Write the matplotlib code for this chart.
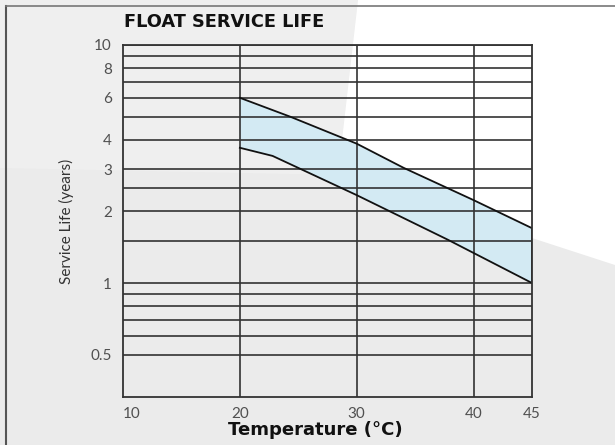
import matplotlib
matplotlib.use("Agg")
import matplotlib.pyplot as plt
from matplotlib.patches import Polygon
from matplotlib.ticker import FixedLocator, NullFormatter

# ---- data ----
upper_x = [20, 24.3, 30, 34, 40, 45]
upper_y = [6.0, 5.0, 3.85, 3.05, 2.23, 1.70]
lower_x = [20, 22.8, 30, 37.8, 45]
lower_y = [3.70, 3.42, 2.34, 1.52, 1.0]

x_ticks = [10, 20, 30, 40, 45]
x_tick_labels = ["10", "20", "30", "40", "45"]
x_grid = [20, 30, 40]
y_ticks = [0.5, 1, 2, 3, 4, 6, 8, 10]
y_tick_labels = ["0.5", "1", "2", "3", "4", "6", "8", "10"]
y_grid_minor = [0.6, 0.7, 0.8, 0.9, 1.5, 2.5, 5, 7, 9]

title = "FLOAT SERVICE LIFE"
xlabel = "Temperature (°C)"
ylabel = "Service Life (years)"

plt.rcParams['font.family'] = ['Lato', 'DejaVu Sans']

W, H = 615, 445
fig = plt.figure(figsize=(6.15, 4.45), dpi=100)
fig.patch.set_facecolor('#ebebeb')

# background axes (pixel coordinates)
bgax = fig.add_axes([0, 0, 1, 1], zorder=-5)
bgax.set_xlim(0, W)
bgax.set_ylim(H, 0)
bgax.axis('off')
bgax.add_patch(Polygon([(0, 0), (358, 0), (338, 175), (0, 168)], closed=True,
                       facecolor='#efefef', edgecolor='none'))
bgax.add_patch(Polygon([(358, 0), (338, 175), (615, 265), (615, 0)], closed=True,
                       facecolor='#ffffff', edgecolor='none'))
bgax.plot([6, 6], [6, H], color='#555555', lw=1.5)
bgax.plot([6, W], [6, 6], color='#777777', lw=1.2)

ax = fig.add_axes([123 / W, 1 - 397 / H, (532 - 123) / W, (397 - 45) / H], zorder=1)
ax.set_facecolor('none')
ax.set_yscale('log')
ax.set_xlim(10, 45)
ax.set_ylim(0.332, 10)

# band
poly_pts = list(zip(upper_x, upper_y)) + list(zip(lower_x[::-1], lower_y[::-1]))
ax.add_patch(Polygon(poly_pts, closed=True, facecolor='#d3eaf3', edgecolor='none', zorder=1))
ax.plot(upper_x, upper_y, color='#111111', lw=1.3, zorder=3)
ax.plot(lower_x, lower_y, color='#111111', lw=1.3, zorder=3)
ax.plot([45, 45], [lower_y[-1], upper_y[-1]], color='#111111', lw=1.3, zorder=3)

# grid
ax.yaxis.set_major_locator(FixedLocator(y_ticks))
ax.yaxis.set_minor_locator(FixedLocator(y_grid_minor))
ax.yaxis.set_minor_formatter(NullFormatter())
ax.set_yticklabels(y_tick_labels)
ax.set_xticks(x_ticks)
ax.set_xticklabels(x_tick_labels)
for v in y_ticks + y_grid_minor:
    ax.axhline(v, color='#333333', lw=1.2, zorder=2)
for v in x_grid:
    ax.axvline(v, color='#333333', lw=1.2, zorder=2)

for s in ax.spines.values():
    s.set_color('#333333')
    s.set_linewidth(1.3)
    s.set_zorder(4)

ax.tick_params(which='both', length=0, colors='#505050', labelsize=11)
ax.tick_params(axis='y', pad=8)
ax.tick_params(axis='x', pad=7)
xl = ax.get_xticklabels()
xl[0].set_horizontalalignment('left')

ax.set_xlabel(xlabel, fontsize=13, fontweight='bold', color='#111111',
              family=['DejaVu Sans'])
ax.xaxis.set_label_coords(0.470, -0.068)
ax.set_ylabel(ylabel, fontsize=11, color='#333333', labelpad=12)
fig.text(124 / W, 1 - 22 / H, title, fontsize=12.8, fontweight='bold',
         color='#111111', ha='left', va='center', family=['DejaVu Sans'])

fig.savefig('out.png', dpi=100, facecolor=fig.get_facecolor())
